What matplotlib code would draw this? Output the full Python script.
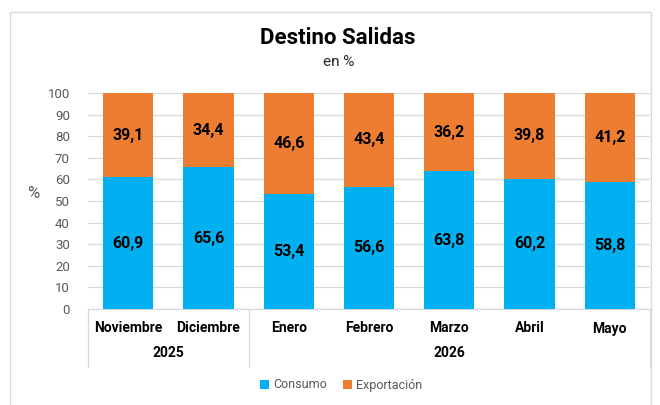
import matplotlib
matplotlib.use("Agg")
import matplotlib.pyplot as plt
from matplotlib.patches import Rectangle
from matplotlib.lines import Line2D

months = ["Noviembre", "Diciembre", "Enero", "Febrero", "Marzo", "Abril", "Mayo"]
years = ["2025", "2026"]
year_groups = [(0, 1), (2, 6)]
consumo = [60.9, 65.6, 53.4, 56.6, 63.8, 60.2, 58.8]
exportacion = [39.1, 34.4, 46.6, 43.4, 36.2, 39.8, 41.2]
yticks = [0, 10, 20, 30, 40, 50, 60, 70, 80, 90, 100]

BLUE = "#00B0F0"
ORANGE = "#ED7D31"
GRAY = "#595959"

plt.rcParams['font.family'] = ['Roboto', 'DejaVu Sans']

W, H = 660, 405
fig = plt.figure(figsize=(W/100, H/100), dpi=100)
fig.patch.set_facecolor("white")

# chart border
fig.patches.append(Rectangle((10/W, -0.01), (W-9)/W - 10/W, 1 - 12/H + 0.01,
                             transform=fig.transFigure, fill=False,
                             edgecolor="#D9D9D9", linewidth=1.0))

ax = fig.add_axes([88/W, 1-309/H, (650-88)/W, (309-93)/H])
x = list(range(len(months)))
bw = 0.625
ax.bar(x, consumo, width=bw, color=BLUE, zorder=3, label="Consumo")
ax.bar(x, exportacion, width=bw, bottom=consumo, color=ORANGE, zorder=3, label="Exportación")

for i in x:
    ax.text(i, consumo[i]/2, f"{consumo[i]:.1f}".replace(".", ","), ha="center", va="center",
            fontsize=11.5, fontweight="bold", color="black", zorder=4)
    ax.text(i, consumo[i] + exportacion[i]/2, f"{exportacion[i]:.1f}".replace(".", ","),
            ha="center", va="center", fontsize=11.5, fontweight="bold", color="black", zorder=4)

ax.set_xlim(-0.5, len(months)-0.5)
ax.set_ylim(0, 100)
ax.set_yticks(yticks)
ax.set_yticklabels([str(t) for t in yticks], color=GRAY, fontsize=9.5)
ax.yaxis.grid(True, color="#D9D9D9", linewidth=0.9, zorder=0)
ax.tick_params(axis="y", length=0, pad=13)
ax.tick_params(axis="x", length=0, pad=9)
ax.set_xticks(x)
ax.set_xticklabels(months, fontsize=10, fontweight="bold", color="black")
for s in ["top", "right", "left"]:
    ax.spines[s].set_visible(False)
ax.spines["bottom"].set_color("#D9D9D9")
ax.spines["bottom"].set_zorder(1)

# separators and year labels
sep_y = -(367-309)/(309-93)
trans = ax.get_xaxis_transform()
for xs in [-0.5, 1.5, 6.5]:
    ax.add_line(Line2D([xs, xs], [0, sep_y], transform=trans, color="#D9D9D9",
                       linewidth=0.9, clip_on=False))
for yr, (a, b) in zip(years, year_groups):
    ax.text((a+b)/2, -(353-309)/(309-93), yr, transform=trans, ha="center", va="center",
            fontsize=10, fontweight="bold", color="black")

ax.text(-0.097, 0.537, "%", transform=ax.transAxes, ha="center", va="center",
        fontsize=12, color=GRAY)

fig.text(338/W, 1-38/H, "Destino Salidas", ha="center", va="center",
         fontsize=16, fontweight="bold", color="black")
fig.text(339/W, 1-62/H, "en %", ha="center", va="center", fontsize=11, color="#262626")

leg = fig.legend(loc="center", bbox_to_anchor=(341/W, 1-385/H), ncol=2, frameon=False,
                 fontsize=9, handlelength=0.75, handleheight=0.75, handletextpad=0.3,
                 columnspacing=1.3)
for t in leg.get_texts():
    t.set_color(GRAY)

fig.savefig("out.png", dpi=100, facecolor="white")
